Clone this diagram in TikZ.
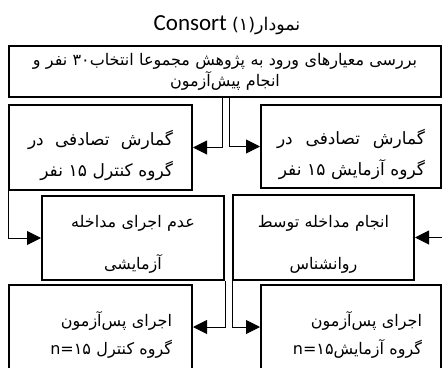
\documentclass[tikz,border=0pt]{standalone}
\usepackage{fontspec}
\usetikzlibrary{arrows.meta}
\TeXXeTstate=1
\newfontfamily\arabicfont[Script=Arabic]{DejaVu Sans}
\newfontfamily\latinfont{Carlito}
\newcommand{\spreadline}[3]{\hbox to \hsize{\beginR #1\hfill #2\hfill #3\endR}}

\begin{document}
\begin{tikzpicture}[x=1pt, y=-1pt,
    box/.style 2 args={draw=black, text=black, shape=rectangle, line width=2pt, inner sep=0pt, font=\arabicfont\fontsize{#1}{#2}\selectfont},
    link/.style={draw=black, line width=1pt, -{Triangle[length=14pt, width=14pt]}}]
    \useasboundingbox (0,0) rectangle (442,367);
    \clip (0,0) rectangle (442,367);

    \node[text=black, font=\latinfont\fontsize{23}{26}\selectfont] (title) at (227,25) {\beginR{\arabicfont\fontsize{17.5}{20}\selectfont نمودار(۱)} \beginL Consort\endL\endR};

    \node[box={16}{21}, minimum width=432, minimum height=51, text width=420, align=center] (screen) at (225,71.5) {\beginR بررسی معیارهای ورود به پژوهش مجموعا انتخاب۳۰ نفر و\endR\\ \beginR انجام پیش‌آزمون\endR};

    \node[box={17}{31}, minimum width=183, minimum height=85, text width=145, text height=32pt, align=right] (randctrl) at (100.5,147.5) {\spreadline{گمارش}{تصادفی}{در}\\ \beginR گروه کنترل ۱۵ نفر\endR};
    \node[box={17}{31}, minimum width=180, minimum height=83, text width=148, text height=32pt, align=right] (randexp) at (351,146.5) {\spreadline{گمارش}{تصادفی}{در}\\ \beginR گروه آزمایش ۱۵ نفر\endR};

    \node[box={16}{42}, minimum width=182, minimum height=84, text width=160, text height=25pt, align=center] (nointerv) at (133,238) {\beginR عدم اجرای مداخله\endR\\ \beginR آزمایشی\endR};
    \node[box={16}{42}, minimum width=181, minimum height=85, text width=160, text height=25pt, align=center] (interv) at (323.5,237.5) {\beginR انجام مداخله توسط\endR\\ \beginR روانشناس\endR};

    \node[box={16}{28}, minimum width=183, minimum height=84, text width=143, text height=31pt, align=right] (postctrl) at (100.5,327) {\beginR اجرای پس‌آزمون\endR\\ \beginR گروه کنترل \beginL n=۱۵\endL\endR};
    \node[box={16}{28}, minimum width=180, minimum height=84, text width=142, text height=31pt, align=right] (postexp) at (351,327) {\beginR اجرای پس‌آزمون\endR\\ \beginR گروه آزمایش\beginL n=۱۵\endL\endR};

    \draw[link] ([xshift=-2.5pt]screen.south) |- (randctrl.east);
    \draw[link] ([xshift=4pt]screen.south) |- (randexp.west);
    \draw[link] (randctrl.south west) |- (nointerv.west);
    \draw[link] ([xshift=3pt]randexp.south east) |- (interv.east);
    \draw[link] (nointerv.south east) |- (postctrl.east);
    \draw[link] (interv.south west) |- (postexp.west);
\end{tikzpicture}
\end{document}
